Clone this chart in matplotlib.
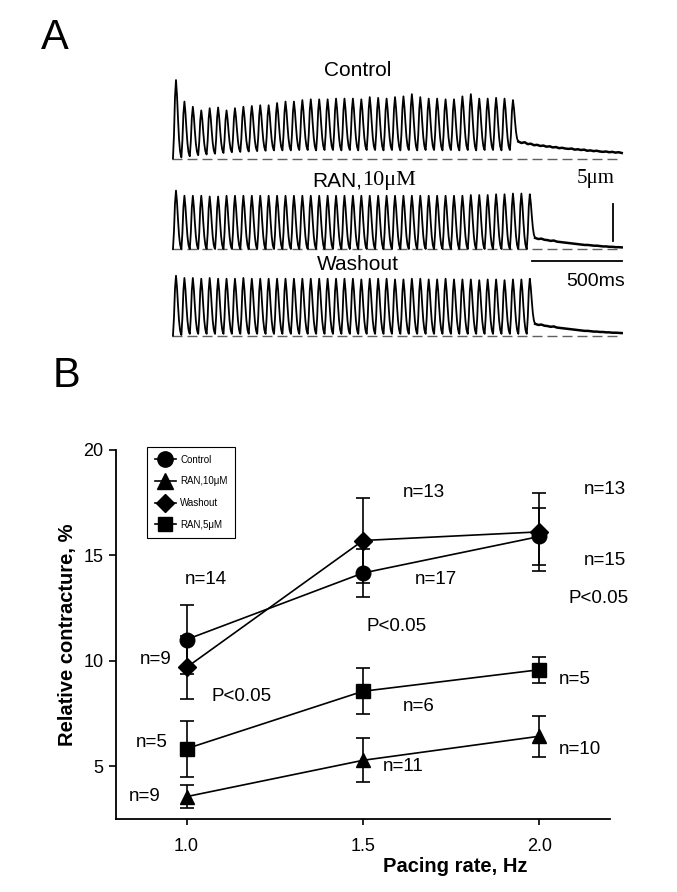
#!/usr/bin/env python3

import matplotlib
matplotlib.use("Agg")
import matplotlib.pyplot as plt
import numpy as np

# ---------------- Panel B data ----------------
rate = [1.0, 1.5, 2.0]
control = [11.0, 14.15, 15.88]
control_err = [1.62, 1.15, 1.35]
ran10 = [3.56, 5.28, 6.42]
ran10_err = [0.55, 1.05, 0.98]
washout = [9.68, 15.69, 16.1]
washout_err = [1.5, 2.0, 1.85]
ran5 = [5.83, 8.55, 9.57]
ran5_err = [1.32, 1.09, 0.62]

# annotations: text, x, y, horizontal alignment
notes = [("n=14", 0.995, 13.84, "left"),
         ("n=9", 0.957, 10.05, "right"),
         ("P<0.05", 1.071, 8.3, "left"),
         ("n=5", 0.946, 6.11, "right"),
         ("n=9", 0.926, 3.58, "right"),
         ("n=11", 1.557, 5.0, "left"),
         ("n=6", 1.614, 7.85, "left"),
         ("n=17", 1.648, 13.84, "left"),
         ("n=13", 1.614, 17.96, "left"),
         ("P<0.05", 1.511, 11.6, "left"),
         ("n=13", 2.125, 18.1, "left"),
         ("n=15", 2.125, 14.75, "left"),
         ("P<0.05", 2.082, 12.94, "left"),
         ("n=5", 2.054, 9.1, "left"),
         ("n=10", 2.054, 5.8, "left")]

# ---------------- Panel A data (um, read per beat) ----------------
beat_period = 46.8   # ms
ctrl_peaks = [10.6, 7.7, 7.0, 6.5, 6.8, 6.9, 6.5, 6.8, 7.0, 7.1, 7.2, 7.2, 7.5, 7.7,
              7.7, 7.9, 8.0, 8.0, 8.0, 8.1, 8.1, 8.1, 8.0, 8.3, 8.2, 8.1, 8.3, 8.4,
              8.7, 8.3, 8.1, 8.1, 8.0, 8.0, 8.4, 8.7, 8.1, 8.1, 8.2, 8.1, 7.9]
ctrl_troughs = [0.0, 0.15, 0.3, 0.45, 0.55, 0.65, 0.75, 0.85, 0.9, 0.95, 1.0, 1.05,
                1.1, 1.1, 1.1, 1.15, 1.15, 1.1, 1.15, 1.15, 1.1, 1.15, 1.1, 1.15,
                1.15, 1.1, 1.15, 1.1, 1.15, 1.1, 1.15, 1.15, 1.1, 1.15, 1.1, 1.15,
                1.1, 1.15, 1.15, 1.1, 1.15]
ctrl_tail = [2.3, 2.1, 2.2, 1.95, 2.0, 1.8, 1.85, 1.7, 1.75, 1.6, 1.65, 1.5, 1.55,
             1.4, 1.45, 1.35, 1.3, 1.35, 1.2, 1.25, 1.15, 1.2, 1.05, 1.1, 1.0, 1.05,
             0.95, 0.9, 0.95, 0.85, 0.9, 0.8, 0.85, 0.75]

ran_peaks = [7.9, 7.2, 7.2, 7.2, 7.1, 7.1, 7.2, 7.2, 7.2, 7.2, 7.2, 7.2, 7.2, 7.2,
             7.2, 7.2, 7.2, 7.2, 7.2, 7.2, 7.2, 7.2, 7.2, 7.2, 7.2, 7.2, 7.2, 7.2,
             7.2, 7.2, 7.2, 7.2, 7.2, 7.2, 7.2, 7.3, 7.3, 7.3, 7.4, 7.4, 7.5, 7.5,
             7.4]
ran_troughs = [0.0] * 43
ran_tail = [1.5, 1.35, 1.4, 1.25, 1.2, 1.1, 1.15, 1.0, 0.95, 0.9, 0.85, 0.8, 0.75,
            0.7, 0.65, 0.6, 0.55, 0.55, 0.5, 0.45, 0.45, 0.4, 0.35, 0.35, 0.3,
            0.3, 0.25, 0.25, 0.22]

wash_peaks = [8.1, 7.8, 7.8, 7.7, 7.8, 7.7, 7.7, 7.7, 7.8, 7.7, 7.7, 7.7, 7.7, 7.7,
              7.7, 7.7, 7.7, 7.7, 7.7, 7.7, 7.7, 7.7, 7.6, 7.7, 7.7, 7.7, 7.6, 7.6,
              7.7, 7.7, 7.6, 7.6, 7.7, 7.6, 7.6, 7.6, 7.5, 7.6, 7.6, 7.5, 7.6, 7.6,
              7.7]
wash_troughs = [0.0, 0.1] + [0.25] * 41
wash_tail = [1.6, 1.45, 1.5, 1.35, 1.3, 1.2, 1.25, 1.1, 1.05, 1.0, 0.95, 0.9, 0.85,
             0.8, 0.75, 0.7, 0.65, 0.65, 0.6, 0.55, 0.55, 0.5, 0.5, 0.45, 0.45,
             0.4, 0.4, 0.38, 0.35]

# normalised beat shape (fraction of period, fraction of amplitude)
rise_t = [0.0, 0.12, 0.24, 0.36]
rise_v = [0.0, 0.3, 0.78, 1.0]
fall_t = [0.48, 0.6, 0.72, 0.84, 0.94]
fall_v = [0.8, 0.5, 0.24, 0.08, 0.02]


def build_trace(t0, peaks, troughs, tail, t_end):
    ts, ys = [], []
    n = len(peaks)
    for i in range(n):
        start = t0 + i * beat_period
        lo = troughs[i]
        nxt = troughs[i + 1] if i + 1 < n else tail[0]
        for f, v in zip(rise_t, rise_v):
            ts.append(start + f * beat_period)
            ys.append(lo + v * (peaks[i] - lo))
        for f, v in zip(fall_t, fall_v):
            ts.append(start + f * beat_period)
            ys.append(nxt + v * (peaks[i] - nxt))
    tail_start = t0 + n * beat_period
    tail_x = np.linspace(tail_start, t_end, len(tail))
    return np.array(ts), np.array(ys), tail_x, np.array(tail)


def main():
    plt.rcParams['font.family'] = ['Liberation Sans', 'DejaVu Sans']
    fig = plt.figure(figsize=(6.77, 8.92), dpi=100)

    # ---------------- Panel A ----------------
    ax_a = fig.add_axes([160 / 677, 1 - 345 / 892, 480 / 677, 295 / 892])
    ax_a.set_xlim(0, 480 / 0.18)
    ax_a.set_ylim(0, 295 / 7.4)
    ax_a.axis('off')

    t0 = 72
    t_end = 2565
    traces = [(ctrl_peaks, ctrl_troughs, ctrl_tail, 25.2),
              (ran_peaks, ran_troughs, ran_tail, 12.97),
              (wash_peaks, wash_troughs, wash_tail, 1.26)]
    for peaks, troughs, tail, base in traces:
        ax_a.plot([65, 2565], [base, base], color='#606060', lw=1.0,
                  dashes=(7.2, 3.6), zorder=1)
        ts, ys, tx, ty = build_trace(t0, peaks, troughs, tail, t_end)
        ts = np.append(ts, tx[0])
        ys = np.append(ys, ty[0])
        ax_a.plot(ts, ys + base, color='black', lw=1.3, zorder=2)
        ax_a.plot(tx, ty + base, color='black', lw=1.8, zorder=2)

    ax_a.text(1100, (345 - 70) / 7.4, "Control", ha='center', va='center', fontsize=15)
    ax_a.text(1122, (345 - 181) / 7.4, "RAN,", ha='right', va='center', fontsize=15)
    ax_a.text(1122, (345 - 181) / 7.4, "10μM", ha='left', va='center', fontsize=16,
              family='Liberation Serif')
    ax_a.text(1100, (345 - 264) / 7.4, "Washout", ha='center', va='center', fontsize=15)
    # scale bars
    ax_a.plot([2517, 2517], [14.05, 19.05], color='black', lw=1.3)
    ax_a.plot([2067, 2567], [11.35, 11.35], color='black', lw=1.3)
    ax_a.text(2420, (345 - 178) / 7.4, "5μm", ha='center', va='center', fontsize=15,
              family='Liberation Serif')
    ax_a.text(2420, (345 - 282) / 7.4, "500ms", ha='center', va='center', fontsize=14)

    fig.text(55 / 677, 1 - 38 / 892, "A", ha='center', va='center', fontsize=30)
    fig.text(66 / 677, 1 - 376 / 892, "B", ha='center', va='center', fontsize=30)

    # ---------------- Panel B ----------------
    ax = fig.add_axes([116 / 677, 1 - 819 / 892, 494 / 677, 369.5 / 892])
    series = [(control, control_err, 'o', 10.5, 'Control'),
              (ran10, ran10_err, '^', 10.5, 'RAN,10μM'),
              (washout, washout_err, 'D', 9, 'Washout'),
              (ran5, ran5_err, 's', 9.5, 'RAN,5μM')]
    handles = []
    for vals, errs, mk, ms, lab in series:
        ax.errorbar(rate, vals, yerr=errs, fmt='none', ecolor='black',
                    elinewidth=1.2, capsize=4.7, capthick=1.2, zorder=2)
        h, = ax.plot(rate, vals, color='black', lw=1.2, marker=mk,
                     markersize=ms, markerfacecolor='black',
                     markeredgecolor='black', label=lab, zorder=3)
        handles.append(h)

    ax.set_xlim(0.8, 2.2)
    ax.set_ylim(2.5, 20)
    ax.set_xticks([1.0, 1.5, 2.0])
    ax.set_xticklabels(['1.0', '1.5', '2.0'])
    ax.set_yticks([5, 10, 15, 20])
    ax.spines['top'].set_visible(False)
    ax.spines['right'].set_visible(False)
    ax.spines['left'].set_linewidth(1.3)
    ax.spines['bottom'].set_linewidth(1.3)
    ax.tick_params(axis='y', direction='out', length=5, width=1.2, pad=4, labelsize=13)
    ax.tick_params(axis='x', direction='out', length=4, width=1.2, pad=10, labelsize=13)

    ax.set_xlabel("Pacing rate, Hz", fontsize=14.5, fontweight='bold', va='center')
    ax.xaxis.set_label_coords((455 - 116) / 494, (819 - 866) / 369.5)
    ax.set_ylabel("Relative contracture, %", fontsize=14.5, fontweight='bold',
                  va='center')
    ax.yaxis.set_label_coords((68 - 116) / 494, 0.5)

    for txt, x, y, ha in notes:
        ax.text(x, y, txt, ha=ha, va='center', fontsize=13.5)

    leg = ax.legend(handles=handles, loc='upper left',
                    bbox_to_anchor=(147 / 677, 1 - 447 / 892),
                    bbox_transform=fig.transFigure, fontsize=7,
                    fancybox=False, framealpha=1.0, edgecolor='black',
                    handlelength=2.2, handletextpad=0.4, labelspacing=1.2,
                    borderpad=0.8, borderaxespad=0, markerscale=1.05)
    leg.get_frame().set_linewidth(0.8)

    plt.savefig("out.png", dpi=100)


if __name__ == '__main__':
    main()
